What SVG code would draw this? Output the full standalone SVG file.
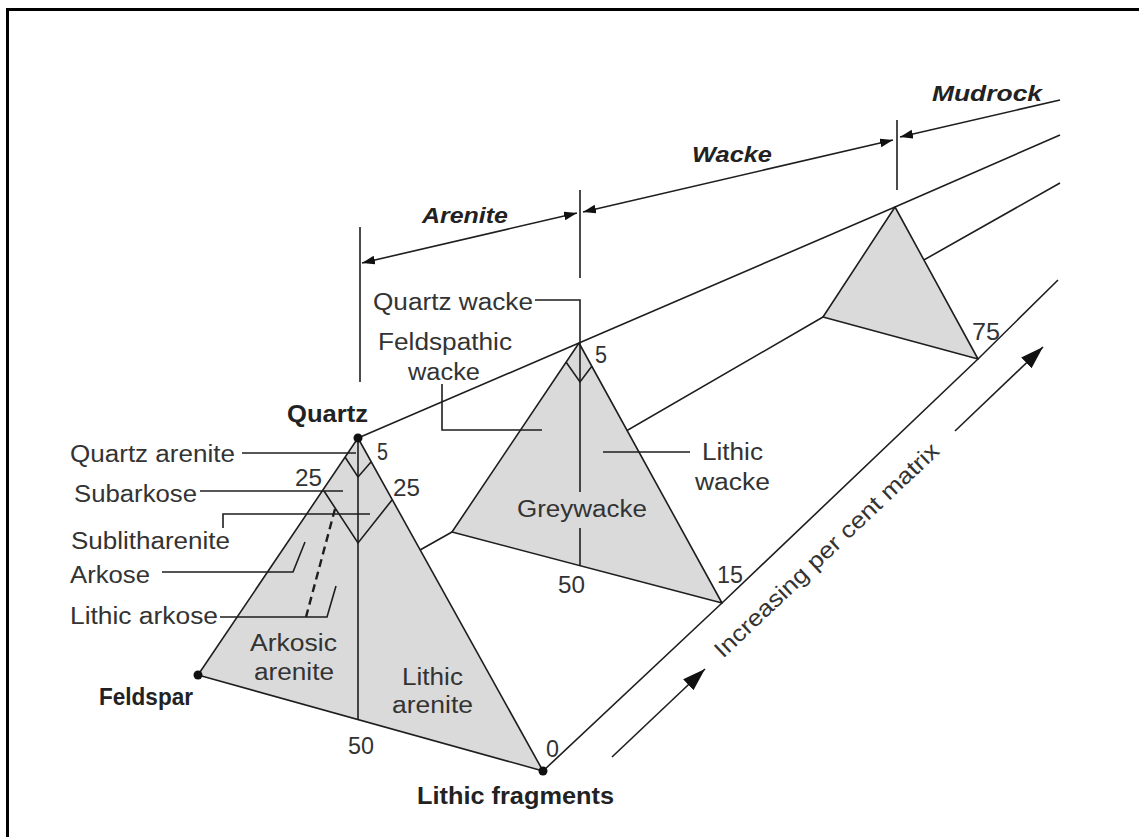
<svg xmlns="http://www.w3.org/2000/svg" width="1139" height="837" viewBox="0 0 1139 837">
<style>
.ln{fill:none;stroke:#1e1e1e;stroke-width:1.6}
.tri{fill:#dadada;stroke:#1e1e1e;stroke-width:1.6;stroke-linejoin:round}
.t{font-family:"Liberation Sans",Arial,sans-serif;font-size:23px;fill:#333}
.b{font-family:"Liberation Sans",Arial,sans-serif;font-size:23px;font-weight:bold;fill:#222}
.bi{font-family:"Liberation Sans",Arial,sans-serif;font-size:22px;font-weight:bold;font-style:italic;fill:#222}
.dot{fill:#111}
</style>
<defs>
<marker id="ah" markerUnits="userSpaceOnUse" markerWidth="14" markerHeight="10" refX="13" refY="4.5" orient="auto-start-reverse"><path d="M0,0 L13,4.5 L0,9 z" fill="#111"/></marker>
<marker id="big" markerUnits="userSpaceOnUse" markerWidth="24" markerHeight="16" refX="23" refY="7.5" orient="auto"><path d="M0,0 L23,7.5 L0,15 z" fill="#111"/></marker>
</defs>
<rect width="1139" height="837" fill="#fff"/>
<path d="M7.5,837 V9.5 H1139" fill="none" stroke="#000" stroke-width="3"/>

<g id="prism-lines" class="ln">
<path d="M358,438 L579,343 L895,207 L1060,135"/>
<path d="M198,675 L452,532 L823,317 L1060,183"/>
<path d="M543,771 L722,603 L978,359 L1058,280"/>
</g>

<g id="triangle-1">
<path class="tri" d="M358,438 L198,675 L543,771 Z"/>
<path class="ln" d="M358,438 V720"/>
<path class="ln" d="M345,457 L358,477 L371,462"/>
<path class="ln" d="M324,491 L358,543 L392,500"/>
</g>
<g id="triangle-2">
<path class="tri" d="M579,343 L452,532 L722,603 Z"/>
<path class="ln" d="M566,362 L580,382 L592,366"/>
</g>
<g id="triangle-3">
<path class="tri" d="M895,207 L823,317 L978,359 Z"/>
</g>

<g id="connectors" class="ln">
<path d="M242,453 H356"/>
<path d="M200,491 H343"/>
<path d="M223,528 V514 H370"/>
<path d="M162,572 H293 L305,542"/>
<path d="M220,617 H327 L336,586"/>
<path d="M335,509 L306,617" stroke-width="2.4" stroke-dasharray="8,5"/>
<path d="M535,300 H580 V492"/>
<path d="M580,528 V566"/>
<path d="M442,384 V430 H542"/>
<path d="M603,452 H690"/>
<path d="M360,227 V382"/>
<path d="M580,190 V278"/>
<path d="M897,120 V190"/>
<path d="M362,263 L577,213" marker-start="url(#ah)" marker-end="url(#ah)"/>
<path d="M583,212 L893,140" marker-start="url(#ah)" marker-end="url(#ah)"/>
<path d="M1060,100 L900,137" marker-end="url(#ah)"/>
<path d="M612,757 L705,669" marker-end="url(#big)"/>
<path d="M955,431 L1043,347" marker-end="url(#big)"/>
</g>

<g id="vertices">
<circle class="dot" cx="358" cy="438" r="4.5"/>
<circle class="dot" cx="198" cy="675" r="4.5"/>
<circle class="dot" cx="543" cy="771" r="4.5"/>
</g>

<g id="labels-t1">
<text class="b" x="287" y="422" textLength="81" lengthAdjust="spacingAndGlyphs">Quartz</text>
<text class="b" x="99" y="705" textLength="94" lengthAdjust="spacingAndGlyphs">Feldspar</text>
<text class="b" x="417" y="804" textLength="197" lengthAdjust="spacingAndGlyphs">Lithic fragments</text>
<text class="t" x="70" y="462" textLength="165" lengthAdjust="spacingAndGlyphs">Quartz arenite</text>
<text class="t" x="74" y="502" textLength="123" lengthAdjust="spacingAndGlyphs">Subarkose</text>
<text class="t" x="71" y="549" textLength="159" lengthAdjust="spacingAndGlyphs">Sublitharenite</text>
<text class="t" x="70" y="583" textLength="80" lengthAdjust="spacingAndGlyphs">Arkose</text>
<text class="t" x="70" y="624" textLength="148" lengthAdjust="spacingAndGlyphs">Lithic arkose</text>
<text class="t" x="295" y="486" textLength="27" lengthAdjust="spacingAndGlyphs">25</text>
<text class="t" x="377" y="460" textLength="11" lengthAdjust="spacingAndGlyphs">5</text>
<text class="t" x="393" y="496" textLength="27" lengthAdjust="spacingAndGlyphs">25</text>
<text class="t" x="250" y="651" textLength="87" lengthAdjust="spacingAndGlyphs">Arkosic</text>
<text class="t" x="254" y="680" textLength="80" lengthAdjust="spacingAndGlyphs">arenite</text>
<text class="t" x="402" y="685" textLength="61" lengthAdjust="spacingAndGlyphs">Lithic</text>
<text class="t" x="392" y="713" textLength="81" lengthAdjust="spacingAndGlyphs">arenite</text>
<text class="t" x="348" y="754" textLength="26" lengthAdjust="spacingAndGlyphs">50</text>
<text class="t" x="546" y="757" textLength="13" lengthAdjust="spacingAndGlyphs">0</text>
</g>

<g id="labels-t2">
<text class="t" x="373" y="310" textLength="160" lengthAdjust="spacingAndGlyphs">Quartz wacke</text>
<text class="t" x="378" y="350" textLength="134" lengthAdjust="spacingAndGlyphs">Feldspathic</text>
<text class="t" x="408" y="380" textLength="72" lengthAdjust="spacingAndGlyphs">wacke</text>
<text class="t" x="595" y="363" textLength="12" lengthAdjust="spacingAndGlyphs">5</text>
<text class="t" x="517" y="517" textLength="130" lengthAdjust="spacingAndGlyphs">Greywacke</text>
<text class="t" x="702" y="460" textLength="61" lengthAdjust="spacingAndGlyphs">Lithic</text>
<text class="t" x="695" y="490" textLength="75" lengthAdjust="spacingAndGlyphs">wacke</text>
<text class="t" x="558" y="593" textLength="27" lengthAdjust="spacingAndGlyphs">50</text>
<text class="t" x="717" y="583" textLength="26" lengthAdjust="spacingAndGlyphs">15</text>
</g>

<g id="labels-t3">
<text class="t" x="972" y="340" textLength="28" lengthAdjust="spacingAndGlyphs">75</text>
</g>

<g id="labels-classes">
<text class="bi" x="422" y="223" textLength="86" lengthAdjust="spacingAndGlyphs">Arenite</text>
<text class="bi" x="692" y="162" textLength="80" lengthAdjust="spacingAndGlyphs">Wacke</text>
<text class="bi" x="932" y="101" textLength="110" lengthAdjust="spacingAndGlyphs">Mudrock</text>
<text class="t" transform="translate(723,659) rotate(-43.5)" x="0" y="0" textLength="300" lengthAdjust="spacingAndGlyphs">Increasing per cent matrix</text>
</g>
</svg>
